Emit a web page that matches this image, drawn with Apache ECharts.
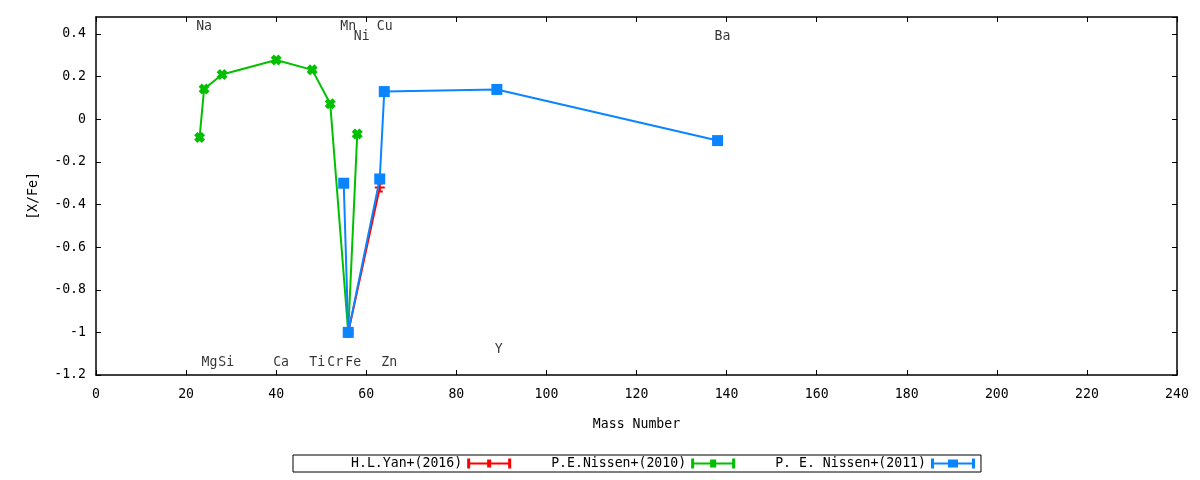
<!DOCTYPE html>
<html>
<head>
<meta charset="utf-8">
<script src="https://cdn.jsdelivr.net/npm/echarts@6/dist/echarts.min.js"></script>
<style>
  html, body { margin: 0; padding: 0; background: #fff; }
  #main { width: 1200px; height: 480px; }
</style>
</head>
<body>
<div id="main"></div>
<script>
// Data: [mass number, [X/Fe]]
const yanMass = [56, 63];
const yanXFe = [-1.0, -0.32];

const nissen2010Mass = [23, 24, 28, 40, 48, 52, 56, 58];
const nissen2010XFe = [-0.085, 0.142, 0.21, 0.278, 0.232, 0.073, -1.0, -0.069];

const nissen2011Mass = [55, 56, 63, 64, 89, 138];
const nissen2011XFe = [-0.3, -1.0, -0.28, 0.13, 0.14, -0.1];

// element name labels (text, x, y in data units)
const elemNames = ["Na", "Mg", "Si", "Ca", "Ti", "Cr", "Mn", "Fe", "Ni", "Cu", "Zn", "Y", "Ba"];
const elemX = [24, 25.2, 28.9, 41.1, 49.1, 53.1, 56, 57.1, 59, 64.1, 65.1, 89.4, 139.1];
const elemY = [0.434, -1.144, -1.144, -1.144, -1.144, -1.144, 0.434, -1.144, 0.386, 0.434, -1.144, -1.081, 0.386];

const legendNames = ["H.L.Yan+(2016)", "P.E.Nissen+(2010)", "P. E. Nissen+(2011)"];
const xTicks = { min: 0, max: 240, interval: 20 };
const yTicks = { min: -1.2, max: 0.48, interval: 0.2 };

const FONT = "DejaVu Sans Mono";
const FS = 13.2;
const RED = "#ff0000", GREEN = "#00c000", BLUE = "#0a84ff";

var myChart = echarts.init(document.getElementById("main"));

function pairs(xs, ys) {
  return xs.map((x, i) => [x, ys[i]]);
}

// legend icon: errorbar style line with a box in the middle
function legendIcon(markW) {
  const a = 22 - markW / 2, b = 22 + markW / 2;
  return "path://M0,0 H3 V10 H0 Z M41,0 H44 V10 H41 Z M0,4 H44 V6 H0 Z M" +
    a + ",1 H" + b + " V9 H" + a + " Z";
}

const xMark = "path://M0,3 L3,0 L5,2 L7,0 L10,3 L8,5 L10,7 L7,10 L5,8 L3,10 L0,7 L2,5 Z";
const errPlus = "path://M2,0 H8 V2 H6 V4 H10 V6 H6 V8 H8 V10 H2 V8 H4 V6 H0 V4 H4 V2 H2 Z";

const tickStyle = { show: true, inside: true, length: 5, lineStyle: { color: "#000", width: 1 } };
const lineAxis = { show: true, onZero: false, lineStyle: { color: "#000", width: 1.5 } };
const txt = { fontFamily: FONT, fontSize: FS, color: "#000" };

var option = {
  animation: false,
  textStyle: { fontFamily: FONT, color: "#000" },
  grid: { left: 96, top: 17, width: 1081, height: 358 },
  legend: {
    data: [
      { name: legendNames[0], icon: legendIcon(4) },
      { name: legendNames[1], icon: legendIcon(6) },
      { name: legendNames[2], icon: legendIcon(10) },
    ],
    align: "right",
    left: 293,
    top: 455,
    itemWidth: 44,
    itemHeight: 10,
    itemGap: 40,
    padding: [2, 6, 2, 58],
    borderColor: "#000",
    borderWidth: 1,
    borderRadius: 0,
    itemStyle: { borderWidth: 0 },
    lineStyle: { width: 0 },
    textStyle: txt,
  },
  xAxis: [
    {
      type: "value",
      min: xTicks.min,
      max: xTicks.max,
      interval: xTicks.interval,
      name: "Mass Number",
      nameLocation: "middle",
      nameGap: 43,
      nameTextStyle: txt,
      axisLine: lineAxis,
      axisTick: tickStyle,
      axisLabel: Object.assign({ margin: 13 }, txt),
      splitLine: { show: false },
    },
    {
      type: "value",
      position: "top",
      min: xTicks.min,
      max: xTicks.max,
      interval: xTicks.interval,
      axisLine: lineAxis,
      axisTick: tickStyle,
      axisLabel: { show: false },
      splitLine: { show: false },
    },
  ],
  yAxis: [
    {
      type: "value",
      min: yTicks.min,
      max: yTicks.max,
      interval: yTicks.interval,
      name: "[X/Fe]",
      nameLocation: "middle",
      nameGap: 56,
      nameTextStyle: txt,
      axisLine: lineAxis,
      axisTick: tickStyle,
      axisLabel: Object.assign({
        margin: 10,
        showMaxLabel: false,
        formatter: (v) => String(parseFloat(v.toFixed(2))),
      }, txt),
      splitLine: { show: false },
    },
    {
      type: "value",
      position: "right",
      min: yTicks.min,
      max: yTicks.max,
      interval: yTicks.interval,
      axisLine: lineAxis,
      axisTick: tickStyle,
      axisLabel: { show: false },
      splitLine: { show: false },
    },
  ],
  series: [
    {
      name: legendNames[0],
      type: "line",
      data: pairs(yanMass, yanXFe),
      symbol: errPlus,
      symbolSize: 10,
      color: RED,
      lineStyle: { color: RED, width: 2 },
      itemStyle: { color: RED },
      z: 2,
    },
    {
      name: legendNames[1],
      type: "line",
      data: pairs(nissen2010Mass, nissen2010XFe),
      symbol: xMark,
      symbolSize: 11,
      color: GREEN,
      lineStyle: { color: GREEN, width: 2 },
      itemStyle: { color: GREEN },
      z: 3,
    },
    {
      name: legendNames[2],
      type: "line",
      data: pairs(nissen2011Mass, nissen2011XFe),
      symbol: "rect",
      symbolSize: 11,
      color: BLUE,
      lineStyle: { color: BLUE, width: 2 },
      itemStyle: { color: BLUE },
      z: 4,
    },
    {
      name: "labels",
      type: "scatter",
      silent: true,
      symbolSize: 0,
      data: elemNames.map((n, i) => ({ name: n, value: [elemX[i], elemY[i]] })),
      label: Object.assign({
        show: true,
        position: "inside",
        formatter: (p) => p.name,
      }, txt),
      z: 5,
    },
  ],
};

myChart.setOption(option);
</script>
</body>
</html>
